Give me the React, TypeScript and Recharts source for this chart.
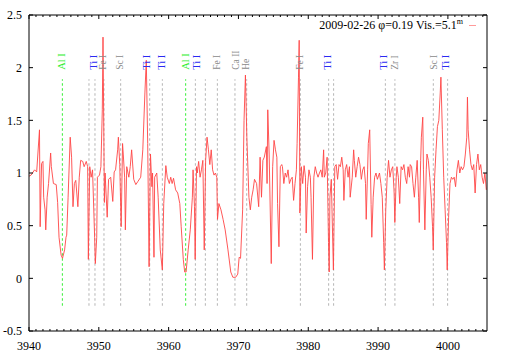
import React from 'react';
import { LineChart, Line, XAxis, YAxis, ReferenceLine, ReferenceDot, Legend } from 'recharts';

// spectrum (wavelength in Angstrom, normalised flux)
const wavelength = [
  3940.0, 3940.3, 3940.8, 3941.1, 3941.5, 3941.6, 3941.8, 3942.0, 3942.1, 3942.3, 3942.4, 3942.6, 3942.8, 3943.1, 3943.2, 3943.5,
  3943.9, 3944.1, 3944.3, 3944.6, 3944.8, 3945.1, 3945.3, 3945.4, 3945.6, 3945.9, 3946.1, 3946.3, 3946.5, 3946.7, 3947.0, 3947.2,
  3947.4, 3947.7, 3947.9, 3948.2, 3948.4, 3948.5, 3948.7, 3948.9, 3949.1, 3949.4, 3949.5, 3949.7, 3949.8, 3950.1, 3950.3, 3950.5,
  3950.6, 3950.8, 3950.9, 3951.2, 3951.4, 3951.7, 3952.0, 3952.2, 3952.4, 3952.7, 3952.8, 3953.0, 3953.2, 3953.4, 3953.5, 3953.7,
  3953.8, 3954.0, 3954.3, 3954.5, 3954.7, 3955.0, 3955.3, 3955.6, 3956.0, 3956.3, 3956.6, 3956.8, 3957.0, 3957.2, 3957.4, 3957.6,
  3957.7, 3957.9, 3958.0, 3958.3, 3958.5, 3958.8, 3959.1, 3959.3, 3959.6, 3959.8, 3960.1, 3960.3, 3960.5, 3960.7, 3961.0, 3961.3,
  3961.6, 3961.8, 3962.1, 3962.3, 3962.5, 3962.8, 3963.1, 3963.4, 3963.5, 3963.7, 3963.8, 3964.0, 3964.1, 3964.3, 3964.5, 3964.7,
  3964.9, 3965.1, 3965.3, 3965.5, 3965.7, 3965.9, 3966.1, 3966.3, 3966.5, 3966.7, 3966.9, 3967.0, 3967.2, 3967.5, 3967.8, 3968.1,
  3968.5, 3968.9, 3969.2, 3969.6, 3969.9, 3970.1, 3970.3, 3970.6, 3970.8, 3971.0, 3971.2, 3971.5, 3971.7, 3971.9, 3972.1, 3972.3,
  3972.6, 3972.9, 3973.1, 3973.3, 3973.5, 3973.7, 3974.0, 3974.1, 3974.2, 3974.4, 3974.7, 3974.9, 3975.1, 3975.3, 3975.5, 3975.6,
  3975.8, 3976.0, 3976.2, 3976.3, 3976.5, 3976.7, 3976.9, 3977.1, 3977.3, 3977.5, 3977.7, 3977.9, 3978.1, 3978.3, 3978.4, 3978.6,
  3978.7, 3978.8, 3979.0, 3979.2, 3979.4, 3979.6, 3979.7, 3979.9, 3980.1, 3980.3, 3980.4, 3980.6, 3980.8, 3981.0, 3981.2, 3981.4,
  3981.6, 3981.8, 3982.0, 3982.2, 3982.3, 3982.5, 3982.7, 3982.9, 3983.0, 3983.1, 3983.3, 3983.4, 3983.6, 3983.8, 3984.0, 3984.2,
  3984.4, 3984.6, 3984.8, 3985.0, 3985.1, 3985.3, 3985.5, 3985.7, 3985.9, 3986.0, 3986.3, 3986.5, 3986.6, 3986.8, 3987.0, 3987.2,
  3987.4, 3987.6, 3987.8, 3988.0, 3988.2, 3988.3, 3988.5, 3988.6, 3988.8, 3989.0, 3989.1, 3989.3, 3989.5, 3989.7, 3989.9, 3990.2,
  3990.4, 3990.6, 3990.8, 3990.9, 3991.1, 3991.3, 3991.5, 3991.7, 3991.9, 3992.1, 3992.3, 3992.4, 3992.6, 3992.7, 3992.9, 3993.1,
  3993.3, 3993.5, 3993.7, 3993.9, 3994.1, 3994.3, 3994.5, 3994.6, 3994.8, 3995.0, 3995.2, 3995.4, 3995.6, 3995.8, 3995.9, 3996.1,
  3996.2, 3996.4, 3996.5, 3996.7, 3996.9, 3997.0, 3997.2, 3997.4, 3997.6, 3997.8, 3997.9, 3998.1, 3998.3, 3998.5, 3998.7, 3998.9,
  3999.0, 3999.2, 3999.4, 3999.6, 3999.8, 3999.9, 4000.1, 4000.3, 4000.5, 4000.7, 4000.9, 4001.1, 4001.3, 4001.5, 4001.7, 4001.9,
  4002.1, 4002.3, 4002.5, 4002.7, 4002.8, 4002.9, 4003.1, 4003.3, 4003.5, 4003.7, 4003.9, 4004.1, 4004.3, 4004.5, 4004.7, 4004.9,
  4005.1, 4005.3, 4005.5,
];

const flux = [
  0.97, 0.98, 1.03, 1.01, 1.41, 0.49, 1.09, 1.11, 0.77, 0.65, 0.46, 0.77, 0.90, 1.19, 1.06, 0.90,
  0.89, 0.72, 0.39, 0.22, 0.19, 0.27, 0.39, 0.41, 0.77, 1.34, 1.15, 0.68, 0.90, 0.93, 0.68, 0.96,
  1.12, 1.11, 1.06, 1.11, 1.06, 0.18, 1.06, 0.96, 1.03, 0.39, 0.14, 0.39, 0.96, 0.98, 1.06, 1.60,
  2.29, 0.72, 1.00, 0.58, 0.94, 0.96, 0.73, 1.01, 1.03, 1.22, 1.34, 1.08, 0.49, 1.28, 1.18, 0.96,
  0.46, 1.06, 0.96, 1.06, 1.22, 0.94, 0.89, 0.92, 0.96, 1.22, 1.76, 2.07, 1.28, 0.11, 1.18, 0.87,
  1.00, 0.20, 0.96, 1.00, 0.77, 0.27, 0.08, 0.71, 1.07, 0.96, 0.90, 0.96, 0.90, 0.95, 0.84, 0.81,
  0.71, 0.49, 0.18, 0.06, 0.06, 0.27, 0.46, 0.77, 1.03, 0.68, 0.18, 1.06, 1.00, 1.11, 0.96, 1.03,
  1.12, 0.27, 1.12, 1.34, 1.22, 1.08, 1.22, 1.03, 0.98, 1.00, 0.96, 0.56, 0.71, 0.65, 0.56, 0.46,
  0.27, 0.06, 0.01, 0.01, 0.04, 0.20, 0.19, 0.65, 1.50, 1.93, 1.34, 0.77, 0.65, 0.77, 0.84, 0.94,
  0.90, 0.68, 1.15, 0.77, 1.12, 1.15, 1.25, 0.90, 1.60, 1.18, 0.14, 1.06, 1.31, 1.22, 1.15, 0.71,
  0.30, 1.06, 1.08, 1.06, 0.90, 1.00, 0.96, 1.03, 0.90, 0.94, 0.96, 0.74, 0.90, 1.03, 1.28, 1.91,
  2.26, 0.62, 1.06, 0.90, 1.07, 0.96, 0.43, 0.87, 1.03, 0.96, 0.77, 0.18, 0.96, 1.06, 1.00, 0.96,
  1.00, 1.03, 0.96, 1.22, 0.96, 1.00, 1.15, 0.34, 0.06, 0.77, 0.94, 0.65, 0.08, 1.06, 1.08, 0.94,
  1.08, 1.06, 1.15, 1.03, 0.74, 1.03, 1.08, 0.96, 1.06, 0.77, 0.96, 1.22, 1.12, 0.96, 1.06, 1.15,
  1.08, 0.94, 1.03, 1.06, 0.90, 0.56, 1.03, 1.28, 1.41, 0.70, 0.39, 0.77, 0.96, 1.00, 0.94, 1.00,
  0.90, 0.77, 0.34, 0.08, 0.65, 0.96, 1.12, 0.96, 1.03, 1.06, 0.81, 0.53, 0.96, 1.06, 0.96, 0.71,
  1.06, 1.03, 1.08, 0.96, 0.90, 1.06, 0.96, 1.08, 1.06, 0.90, 0.77, 0.96, 1.12, 0.77, 0.53, 1.12,
  1.34, 1.53, 1.03, 0.46, 1.03, 1.18, 1.12, 0.96, 0.77, 0.49, 0.27, 0.96, 1.22, 1.44, 1.50, 1.76,
  1.91, 1.41, 0.96, 0.65, 0.34, 0.08, 0.58, 0.90, 0.96, 0.94, 0.96, 0.87, 1.03, 1.12, 1.00, 1.06,
  1.03, 1.06, 1.18, 1.34, 1.72, 1.41, 1.22, 1.08, 1.03, 1.08, 0.81, 1.08, 1.18, 1.03, 1.08, 0.96,
  0.90, 1.00, 0.84,
];

// marked line positions (dashed) and their labels
const alLines = [3944.78, 3962.44];
const otherLines = [
  3948.59, 3949.45, 3950.74, 3953.13, 3957.29, 3959.1, 3963.83, 3965.26, 3966.98, 3969.5,
  3971.18, 3978.87, 3982.92, 3983.63, 3991.04, 3992.41, 3997.91, 3999.96,
];
const labelNames = ['Al I', 'Ti I', 'Fe I', 'Sc I', 'Ti I', 'Ti I', 'Al I', 'Ti I', 'Fe I', 'Ca II', 'He', 'Fe I', 'Ti I', 'Ti I', 'Zr I', 'Sc I', 'Ti I'];
const labelWavelengths = [
  3944.68, 3949.31, 3950.65, 3953.06, 3956.78, 3958.93, 3962.44, 3964.0, 3966.88, 3969.6,
  3971.1, 3978.77, 3982.73, 3990.84, 3992.37, 3997.96, 3999.63,
];

const xMajor = [3940, 3950, 3960, 3970, 3980, 3990, 4000];
const xMinor = Array.from({ length: 66 }, (_, i) => 3940 + i);
const yTicks = [-0.5, 0, 0.5, 1, 1.5, 2, 2.5];

const data = wavelength.map((w, i) => ({ w, f: flux[i] }));

const FONT = '"Liberation Serif", "Times New Roman", serif';
const GREEN = '#33ee33';
const BLUE = '#2a2af2';
const GRAY = '#8a8a8a';
const RED = '#ff4545';

const labelColor = (name: string) => (name === 'Al I' ? GREEN : name === 'Ti I' ? BLUE : GRAY);

const BottomTick = ({ x, y, payload }: any) => {
  const major = xMajor.includes(payload.value);
  return (
    <g>
      <line x1={x} x2={x} y1={y} y2={y - (major ? 4 : 2)} stroke="#000" />
      {major && (
        <text x={x} y={y + 19} textAnchor="middle" fontFamily={FONT} fontSize={12} fill="#000">
          {payload.value}
        </text>
      )}
    </g>
  );
};

const TopTick = ({ x, y, payload }: any) => {
  const major = xMajor.includes(payload.value);
  return <line x1={x} x2={x} y1={y} y2={y + (major ? 4 : 2)} stroke="#000" />;
};

const LeftTick = ({ x, y, payload }: any) => (
  <g>
    <line x1={x} x2={x + 4} y1={y} y2={y} stroke="#000" />
    <text x={x - 7} y={y} dy="0.35em" textAnchor="end" fontFamily={FONT} fontSize={12} fill="#000">
      {payload.value}
    </text>
  </g>
);

const RightTick = ({ x, y }: any) => <line x1={x - 4} x2={x} y1={y} y2={y} stroke="#000" />;

const LineLabel = (name: string) => (props: any) => {
  const { cx, cy } = props;
  const small = labelColor(name) === GRAY;
  return (
    <text
      x={cx}
      y={cy}
      transform={`rotate(-90 ${cx} ${cy})`}
      textAnchor="start"
      dominantBaseline="central"
      fontFamily={FONT}
      fontSize={small ? 9.5 : 10.5}
      fill={labelColor(name)}
    >
      {name}
    </text>
  );
};

const LegendBox = () => (
  <div style={{ display: 'flex', justifyContent: 'flex-end', alignItems: 'center', fontFamily: FONT, fontSize: 12, color: '#000' }}>
    <span style={{ whiteSpace: 'nowrap' }}>
      2009-02-26 φ=0.19 Vis.=5.1<span style={{ fontSize: 8, position: 'relative', top: -5 }}>m</span>
    </span>
    <span style={{ display: 'inline-block', width: 7, height: 1, background: '#ff9a9a', marginLeft: 6 }} />
  </div>
);

export default function App() {
  return (
    <div style={{ width: 509, height: 356, background: '#fff' }}>
      <style>{'body{margin:0}'}</style>
      <LineChart width={509} height={356} data={data} margin={{ top: 14, right: 21, bottom: 0, left: 0 }}>
        <XAxis
          dataKey="w"
          type="number"
          domain={[3940, 4005.6]}
          allowDataOverflow
          ticks={xMinor}
          interval={0}
          height={25}
          tickSize={0}
          tickMargin={0}
          tickLine={false}
          tick={<BottomTick />}
          axisLine={{ stroke: '#000' }}
        />
        <XAxis
          xAxisId="top"
          orientation="top"
          dataKey="w"
          type="number"
          domain={[3940, 4005.6]}
          allowDataOverflow
          ticks={xMinor}
          interval={0}
          height={1}
          tickSize={0}
          tickMargin={0}
          tickLine={false}
          tick={<TopTick />}
          axisLine={{ stroke: '#000' }}
        />
        <YAxis
          type="number"
          domain={[-0.5, 2.5]}
          allowDataOverflow
          ticks={yTicks}
          interval={0}
          width={29}
          tickSize={0}
          tickMargin={0}
          tickLine={false}
          tick={<LeftTick />}
          axisLine={{ stroke: '#000' }}
        />
        <YAxis
          yAxisId="right"
          orientation="right"
          type="number"
          domain={[-0.5, 2.5]}
          allowDataOverflow
          ticks={yTicks}
          interval={0}
          width={1}
          tickSize={0}
          tickMargin={0}
          tickLine={false}
          tick={<RightTick />}
          axisLine={{ stroke: '#000' }}
        />

        {alLines.map((w) => (
          <ReferenceLine
            key={`al-${w}`}
            segment={[{ x: w, y: -0.26 }, { x: w, y: 1.89 }]}
            stroke={GREEN}
            strokeDasharray="2.5 2.5"
          />
        ))}
        {otherLines.map((w) => (
          <ReferenceLine
            key={`ln-${w}`}
            segment={[{ x: w, y: -0.26 }, { x: w, y: 1.89 }]}
            stroke="#b4b4b4"
            strokeDasharray="2.5 2.5"
          />
        ))}
        {labelWavelengths.map((w, i) => (
          <ReferenceDot key={`lb-${i}`} x={w} y={1.98} r={0} shape={LineLabel(labelNames[i])} />
        ))}

        <Line
          type="linear"
          dataKey="f"
          stroke={RED}
          strokeWidth={0.9}
          dot={false}
          isAnimationActive={false}
        />
        <Legend
          verticalAlign="middle"
          align="center"
          layout="horizontal"
          wrapperStyle={{ top: 18, left: 0, width: 476, height: 16 }}
          content={<LegendBox />}
        />
      </LineChart>
    </div>
  );
}
